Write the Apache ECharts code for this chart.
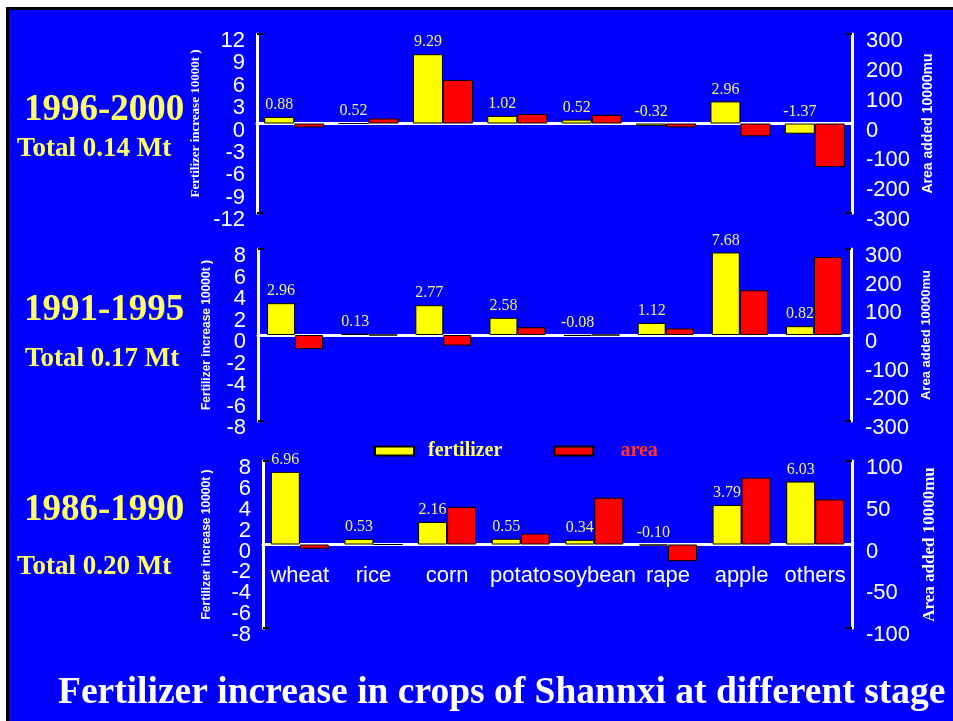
<!DOCTYPE html>
<html>
<head>
<meta charset="utf-8">
<script src="https://cdn.jsdelivr.net/npm/echarts@6/dist/echarts.min.js"></script>
<style>
  html, body { margin: 0; padding: 0; background: #fff; }
  #frame {
    position: absolute; left: 6px; top: 7px; width: 947px; height: 714px;
    box-sizing: border-box; background: #0000ff;
    border-left: 3px solid #000; border-top: 3px solid #000;
  }
  #chart { position: absolute; left: 0; top: 0; width: 953px; height: 721px; }
</style>
</head>
<body>
<div id="frame"></div>
<div id="chart"></div>
<script>
// 作物类别
const crops = ['wheat', 'rice', 'corn', 'potato', 'soybean', 'rape', 'apple', 'others'];

// 1996-2000
const fert9600 = [0.88, 0, 9.29, 1.02, 0.52, -0.32, 2.96, -1.37];
const fertText9600 = ['0.88', '0.52', '9.29', '1.02', '0.52', '-0.32', '2.96', '-1.37'];
const area9600 = [-13, 17, 146, 32, 29, -13, -43, -146];

// 1991-1995
const fert9195 = [2.96, 0.13, 2.77, 1.6, -0.08, 1.12, 7.68, 0.82];
const fertText9195 = ['2.96', '0.13', '2.77', '2.58', '-0.08', '1.12', '7.68', '0.82'];
const area9195 = [-49, 0, -37, 27, 0, 23, 156, 272];

// 1986-1990
const fert8690 = [6.96, 0.53, 2.16, 0.55, 0.45, -0.10, 3.79, 6.03];
const fertText8690 = ['6.96', '0.53', '2.16', '0.55', '0.34', '-0.10', '3.79', '6.03'];
const area8690 = [-5, 0, 45, 13, 56, -20, 80, 54];

// ±8 轴的刻度文字（分两组画，避免相邻文字被自动隐藏）
const ticksEven = [-8, -4, 0, 4, 8];
const ticksOdd = [-6, -2, 2, 6];

const leftName = 'Fertilizer increase 10000t )';
const rightName = 'Area added 10000mu';

const WHITE = '#ffffff';
const SANS = 'Liberation Sans';
const SERIF = 'Liberation Serif';

// 每个面板的布局
const panels = [
  {
    grid: { left: 257, right: 101, top: 34, height: 179 },
    fert: fert9600, text: fertText9600, area: area9600,
    left: { min: -12, max: 12, interval: 3 },
    right: { min: -300, max: 300, interval: 100 },
    leftNameStyle: { fontFamily: SERIF, fontSize: 13, fontWeight: 'bold' }, leftGap: 48,
    rightNameStyle: { fontFamily: SANS, fontSize: 14, fontWeight: 'bold' }, rightGap: 64,
    barWidth: 30,
  },
  {
    grid: { left: 258, right: 102, top: 249, height: 172 },
    fert: fert9195, text: fertText9195, area: area9195,
    left: { min: -8, max: 8, interval: 2 },
    right: { min: -300, max: 300, interval: 100 },
    leftNameStyle: { fontFamily: SANS, fontSize: 12, fontWeight: 'bold' }, leftGap: 45,
    rightNameStyle: { fontFamily: SANS, fontSize: 13, fontWeight: 'bold' }, rightGap: 64,
    barWidth: 28,
    splitLabels: true,
  },
  {
    grid: { left: 263, right: 101, top: 461, height: 167 },
    fert: fert8690, text: fertText8690, area: area8690,
    left: { min: -8, max: 8, interval: 2 },
    right: { min: -100, max: 100, interval: 50 },
    leftNameStyle: { fontFamily: SANS, fontSize: 12, fontWeight: 'bold' }, leftGap: 50,
    rightNameStyle: { fontFamily: SERIF, fontSize: 17, fontWeight: 'bold' }, rightGap: 67,
    barWidth: 29,
    showCats: true,
    splitLabels: true,
  },
];

// 刻度文字稍微下移（与原图一致）
function tickLabel(margin, values) {
  const lbl = {
    margin: margin,
    verticalAlign: 'top',
    lineHeight: 14,
    showMinLabel: true, showMaxLabel: true, hideOverlap: false,
    formatter: (v) => '{t|' + v + '}',
    rich: { t: { color: WHITE, fontFamily: SANS, fontSize: 22, lineHeight: 14 } },
  };
  if (values) lbl.customValues = values;
  return lbl;
}

// 两端的黑色小刻度
function endTicks(range) {
  return {
    show: true, inside: true, length: 6,
    customValues: [range.min, range.max],
    lineStyle: { color: '#000', width: 2 },
  };
}

const grids = [];
const xAxes = [];
const yAxes = [];
const extraAxes = [];
const series = [];

panels.forEach((p, i) => {
  grids.push(p.grid);

  // 类别标签放在零线下方
  const zeroToBottom = p.grid.height / 2;

  xAxes.push({
    gridIndex: i,
    type: 'category',
    data: crops,
    axisLine: { onZero: true, lineStyle: { color: WHITE, width: 3 } },
    axisTick: { show: false },
    axisLabel: {
      show: !!p.showCats, color: WHITE, fontFamily: SANS, fontSize: 22,
      margin: 20 - zeroToBottom, interval: 0,
    },
  });

  yAxes.push({
    gridIndex: i,
    type: 'value',
    position: 'left',
    min: p.left.min, max: p.left.max, interval: p.left.interval,
    axisLine: { show: true, lineStyle: { color: WHITE, width: 3 } },
    axisTick: endTicks(p.left),
    splitLine: { show: false },
    axisLabel: tickLabel(12, p.splitLabels ? ticksEven : null),
    name: leftName,
    nameLocation: 'middle',
    nameRotate: 90,
    nameGap: p.leftGap,
    nameTextStyle: Object.assign({ color: WHITE }, p.leftNameStyle),
  });

  yAxes.push({
    gridIndex: i,
    type: 'value',
    position: 'right',
    min: p.right.min, max: p.right.max, interval: p.right.interval,
    axisLine: { show: true, lineStyle: { color: WHITE, width: 3 } },
    axisTick: endTicks(p.right),
    splitLine: { show: false },
    axisLabel: tickLabel(14),
    name: rightName,
    nameLocation: 'middle',
    nameRotate: 90,
    nameGap: p.rightGap,
    nameTextStyle: Object.assign({ color: WHITE }, p.rightNameStyle),
  });

  // 只放另一半刻度文字的叠加轴
  if (p.splitLabels) {
    extraAxes.push({
      gridIndex: i,
      type: 'value',
      position: 'left',
      min: p.left.min, max: p.left.max, interval: p.left.interval,
      axisLine: { show: false },
      axisTick: { show: false },
      splitLine: { show: false },
      axisLabel: tickLabel(12, ticksOdd),
    });
  }

  series.push({
    name: 'fertilizer',
    type: 'bar',
    xAxisIndex: i,
    yAxisIndex: i * 2,
    data: p.fert,
    barWidth: p.barWidth,
    barGap: '0%',
    itemStyle: { color: '#ffff00', borderColor: '#000', borderWidth: 1 },
    label: {
      show: true,
      position: 'top',
      distance: 4,
      color: '#eeee88',
      fontFamily: SERIF,
      fontSize: 16,
      formatter: (params) => p.text[params.dataIndex],
    },
  });

  series.push({
    name: 'area',
    type: 'bar',
    xAxisIndex: i,
    yAxisIndex: i * 2 + 1,
    data: p.area,
    barWidth: p.barWidth,
    barGap: '0%',
    itemStyle: { color: '#ff0000', borderColor: '#000', borderWidth: 1 },
  });
});

// 左侧阶段文字和底部标题
function txt(text, x, y, size, color) {
  return {
    type: 'text',
    x: x, y: y,
    style: {
      text: text,
      font: 'bold ' + size + 'px "Liberation Serif"',
      fill: color,
      textAlign: 'left', textVerticalAlign: 'middle',
      align: 'left', verticalAlign: 'middle',
    },
  };
}

const YEL = '#ffff66';
const graphics = [
  txt('1996-2000', 24, 110, 37, YEL),
  txt('Total 0.14 Mt', 17, 149, 27, YEL),
  txt('1991-1995', 24, 310, 37, YEL),
  txt('Total 0.17 Mt', 25, 359, 27, YEL),
  txt('1986-1990', 24, 510, 37, YEL),
  txt('Total 0.20 Mt', 17, 567, 27, YEL),
  txt('Fertilizer increase in crops of Shannxi at different stage', 58, 693, 37.5, WHITE),
];

const chart = echarts.init(document.getElementById('chart'));
chart.setOption({
  backgroundColor: 'transparent',
  animation: false,
  grid: grids,
  xAxis: xAxes,
  yAxis: yAxes.concat(extraAxes),
  legend: {
    left: 374,
    top: 441,
    padding: 0,
    itemWidth: 39,
    itemHeight: 9,
    itemGap: 51,
    textStyle: { fontFamily: SERIF, fontSize: 20, fontWeight: 'bold' },
    data: [
      { name: 'fertilizer', icon: 'rect', textStyle: { color: YEL, padding: [0, 0, 0, 9] } },
      { name: 'area', icon: 'rect', textStyle: { color: '#ff3333', padding: [0, 0, 0, 22] } },
    ],
  },
  graphic: graphics,
  series: series,
});
</script>
</body>
</html>
